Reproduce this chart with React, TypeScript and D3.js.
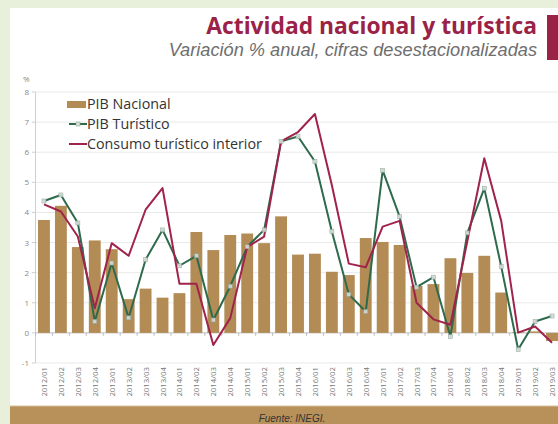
import React from "react";
import * as d3 from "d3";

const categories = [
  "2012/01","2012/02","2012/03","2012/04",
  "2013/01","2013/02","2013/03","2013/04",
  "2014/01","2014/02","2014/03","2014/04",
  "2015/01","2015/02","2015/03","2015/04",
  "2016/01","2016/02","2016/03","2016/04",
  "2017/01","2017/02","2017/03","2017/04",
  "2018/01","2018/02","2018/03","2018/04",
  "2019/01","2019/02","2019/03",
];

const pibNacional = [
  3.75, 4.22, 2.85, 3.07,
  2.78, 1.12, 1.47, 1.17,
  1.32, 3.35, 2.75, 3.25,
  3.3, 2.98, 3.87, 2.6,
  2.63, 2.03, 1.92, 3.15,
  3.02, 2.92, 1.56, 1.62,
  2.48, 1.99, 2.56, 1.34,
  0.02, 0.05, -0.27,
];

const pibTuristico = [
  4.38, 4.58, 3.65, 0.38,
  2.32, 0.5, 2.43, 3.42,
  2.23, 2.56, 0.43, 1.55,
  2.86, 3.42, 6.36, 6.52,
  5.69, 3.37, 1.28, 0.71,
  5.4, 3.86, 1.52, 1.85,
  -0.12, 3.32, 4.8, 2.2,
  -0.55, 0.38, 0.56,
];

const consumoTuristico = [
  4.27, 4.03, 3.2, 0.82,
  2.98, 2.56, 4.09, 4.81,
  1.63, 1.63, -0.4, 0.49,
  2.85, 3.2, 6.36, 6.67,
  7.27, 4.9, 2.3, 2.18,
  3.53, 3.72, 1.0, 0.45,
  0.27, 3.05, 5.8, 3.72,
  0.01, 0.21, -0.33,
];

const yTicks = [-1, 0, 1, 2, 3, 4, 5, 6, 7, 8];

const seriesNames = ["PIB Nacional", "PIB Turístico", "Consumo turístico interior"];

const TITLE = "Actividad nacional y turística";
const SUBTITLE = "Variación % anual, cifras desestacionalizadas";
const SOURCE = "Fuente: INEGI.";

const W = 558;
const H = 424;
const BAR = "#b38b55";
const GREEN = "#2e6a4c";
const CRIMSON = "#a0234b";
const TITLE_COLOR = "#9b2247";

export default function App() {
  const x = d3.scalePoint<string>().domain(categories).range([35.5, 560.5]).padding(0.5);
  const step = x.step();
  const barW = step * 0.7;
  const y = d3.scaleLinear().domain([-1, 8]).range([363, 92]);

  const line = d3
    .line<number>()
    .x((_, i) => x(categories[i]) as number)
    .y((d) => y(d));

  const boundaries = d3.range(categories.length + 1).map((i) => 35.5 + i * step);

  return (
    <svg
      width={W}
      height={H}
      viewBox={`0 0 ${W} ${H}`}
      style={{ position: "absolute", left: 0, top: 0, display: "block" }}
    >
      <rect x={0} y={0} width={W} height={H} fill="#e8f0dc" />
      <rect x={10} y={8} width={W - 10} height={398} fill="#ffffff" />
      <rect x={10} y={406} width={W - 10} height={H - 406} fill="#b8915a" />
      <line x1={10} x2={W} y1={406} y2={406} stroke="#d8c09a" strokeWidth={1} />

      {/* Title */}
      <text
        x={537}
        y={34}
        textAnchor="end"
        fontFamily="'Open Sans', sans-serif"
        fontWeight={700}
        fontSize={22.8}
        fill={TITLE_COLOR}
      >
        {TITLE}
      </text>
      <text
        x={537}
        y={56}
        textAnchor="end"
        fontFamily="'Liberation Sans', Arial, sans-serif"
        fontStyle="italic"
        fontSize={18.2}
        fill="#6e6e6e"
      >
        {SUBTITLE}
      </text>
      <rect x={547} y={15} width={11} height={45} fill={TITLE_COLOR} />

      {/* Gridlines */}
      {yTicks.map((t) => (
        <line
          key={`g${t}`}
          x1={36}
          x2={W}
          y1={y(t)}
          y2={y(t)}
          stroke={t === 0 ? "#bdbdbd" : "#e9e9e9"}
          strokeWidth={1}
        />
      ))}
      {/* Y axis */}
      <line x1={35.5} x2={35.5} y1={y(8)} y2={y(-1)} stroke="#cfcfcf" strokeWidth={1} />
      {yTicks.map((t) => (
        <g key={`yt${t}`}>
          <line x1={32} x2={35.5} y1={y(t)} y2={y(t)} stroke="#cfcfcf" />
          <text
            x={29}
            y={y(t) + 3}
            textAnchor="end"
            fontFamily="'Open Sans', sans-serif"
            fontSize={8}
            fill="#888"
          >
            {t}
          </text>
        </g>
      ))}
      <text x={23} y={82} fontFamily="'Open Sans', sans-serif" fontSize={8} fill="#888">
        %
      </text>

      {/* Bars */}
      {pibNacional.map((v, i) => {
        const cx = x(categories[i]) as number;
        const y0 = y(0);
        const yv = y(v);
        return (
          <rect
            key={`b${i}`}
            x={cx - barW / 2}
            y={Math.min(y0, yv)}
            width={barW}
            height={Math.abs(yv - y0)}
            fill={BAR}
          />
        );
      })}

      {/* zero axis ticks */}
      {boundaries.map((bx, i) => (
        <line key={`xt${i}`} x1={bx} x2={bx} y1={y(0)} y2={y(0) + 3} stroke="#bdbdbd" />
      ))}

      {/* Lines */}
      <path d={line(pibTuristico) || ""} fill="none" stroke={GREEN} strokeWidth={2} strokeLinejoin="round" />
      <path d={line(consumoTuristico) || ""} fill="none" stroke={CRIMSON} strokeWidth={2} strokeLinejoin="round" />
      {pibTuristico.map((v, i) => (
        <rect
          key={`m${i}`}
          x={(x(categories[i]) as number) - 2}
          y={y(v) - 2}
          width={4}
          height={4}
          fill="#d9dedb"
          stroke="#8fa89a"
          strokeWidth={0.6}
          opacity={0.9}
        />
      ))}

      {/* X labels */}
      {categories.map((c) => (
        <text
          key={`xl${c}`}
          transform={`translate(${(x(c) as number) + 3},${367}) rotate(-90)`}
          textAnchor="end"
          fontFamily="'Open Sans', sans-serif"
          fontSize={7.8}
          fill="#777"
        >
          {c}
        </text>
      ))}

      {/* Legend */}
      <g fontFamily="'Open Sans', sans-serif" fontSize={14.3} fill="#333">
        <rect x={67} y={101} width={19} height={7} fill={BAR} />
        <text x={87} y={109}>{seriesNames[0]}</text>
        <line x1={69} x2={87} y1={124} y2={124} stroke={GREEN} strokeWidth={2} />
        <rect x={76} y={122} width={4} height={4} fill="#d9dedb" stroke="#8fa89a" strokeWidth={0.6} />
        <text x={87} y={129}>{seriesNames[1]}</text>
        <line x1={69} x2={87} y1={144} y2={144} stroke={CRIMSON} strokeWidth={2} />
        <text x={87} y={149}>{seriesNames[2]}</text>
      </g>

      {/* Source */}
      <text
        x={292}
        y={422}
        textAnchor="middle"
        fontFamily="'Liberation Sans', Arial, sans-serif"
        fontStyle="italic"
        fontSize={10}
        fill="#333"
      >
        {SOURCE}
      </text>
    </svg>
  );
}
